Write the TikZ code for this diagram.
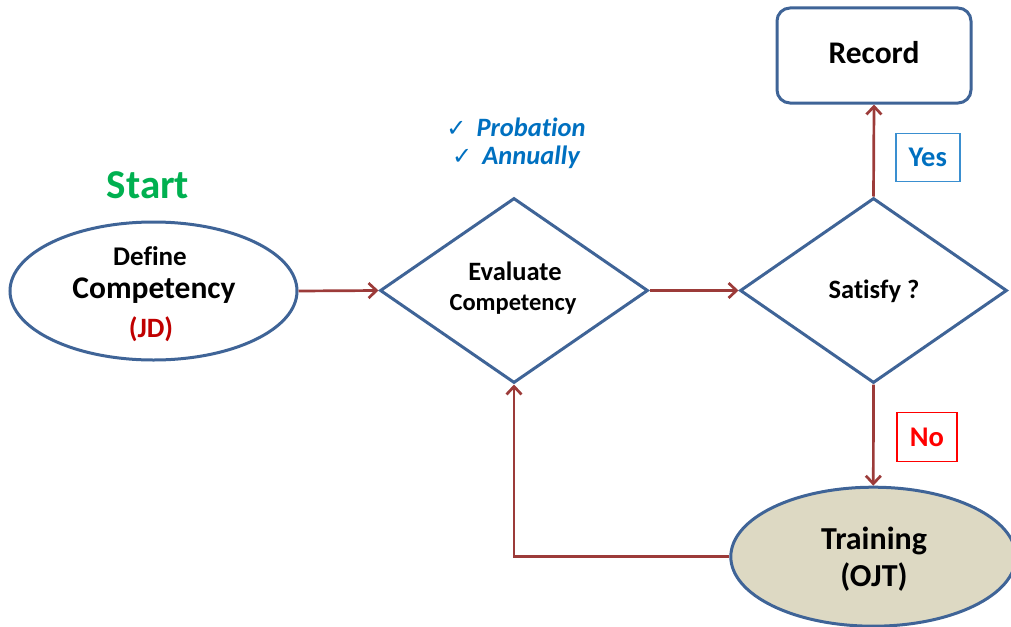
\documentclass[tikz,border=0pt]{standalone}
\usepackage{fontspec}
\setmainfont{Carlito}[Ligatures=NoCommon]
\newfontfamily\symfont{DejaVu Sans}
\usetikzlibrary{shapes.geometric,arrows.meta}
\definecolor{outl}{HTML}{3F6497}
\definecolor{arr}{HTML}{9C3B39}
\definecolor{lblue}{HTML}{0070C0}
\definecolor{ybox}{HTML}{3A8FD0}
\definecolor{nred}{HTML}{FF0000}
\definecolor{jdred}{HTML}{C00000}
\definecolor{sgreen}{HTML}{00B050}
\definecolor{tfill}{HTML}{DDD9C3}
\tikzset{
  shapeol/.style={draw=outl, line width=3pt, inner sep=0pt, fill=white},
  flowarrow/.style={draw=arr, line width=2.7pt, -{Straight Barb[length=8pt,width=15pt,line width=2.7pt]}},
  txt/.style={font=\bfseries, inner sep=0pt, text=black},
  tagbox/.style={line width=1.4pt, inner sep=0pt, fill=white, font=\fontsize{28.5}{32}\selectfont\bfseries}
}
\begin{document}
\begin{tikzpicture}[x=1pt,y=-1pt]
\useasboundingbox (0,0) rectangle (1011,626);
\clip (0,0) rectangle (1011,626);

% shapes
\node[shapeol, ellipse, minimum width=287pt, minimum height=138pt] (def) at (153.5,291) {};
\node[shapeol, diamond, minimum width=268pt, minimum height=185pt] (eval) at (514,290.5) {};
\node[shapeol, diamond, minimum width=267pt, minimum height=185pt] (sat) at (873.5,290.5) {};
\node[shapeol, rounded corners=13pt, minimum width=194pt, minimum height=95pt] (rec) at (874,55.5) {};
\node[shapeol, ellipse, fill=tfill, minimum width=285pt, minimum height=139pt] (train) at (873.3,556.7) {};

% texts
\node[txt, text=sgreen, font=\fontsize{41}{44}\selectfont\bfseries] (start) at (148,185) {Start};
\node[txt, font=\fontsize{27}{30}\selectfont\bfseries] (deft1) at (150,256) {Define};
\node[txt, font=\fontsize{31.5}{35}\selectfont\bfseries] (deft2) at (154,291) {Competency};
\node[txt, text=jdred, font=\fontsize{28}{31}\selectfont\bfseries] (deft3) at (151,329) {(JD)};
\node[txt, font=\fontsize{26.5}{30}\selectfont\bfseries] (evt1) at (515,271) {Evaluate};
\node[txt, font=\fontsize{24.5}{28}\selectfont\bfseries] (evt2) at (513,304) {Competency};
\node[txt, font=\fontsize{26.5}{30}\selectfont\bfseries] (satt) at (874,291) {Satisfy ?};
\node[txt, font=\fontsize{31.5}{35}\selectfont\bfseries] (rect) at (874,53) {Record};
\node[txt, font=\fontsize{32}{36}\selectfont\bfseries] (trt1) at (874,541) {Training};
\node[txt, font=\fontsize{32}{36}\selectfont\bfseries] (trt2) at (874,577) {(OJT)};
\node[txt, text=lblue, font=\fontsize{26.5}{30}\selectfont\bfseries\itshape] (prob) at (516,127) {{\symfont\fontsize{24}{26}\selectfont\upshape\mdseries ✓}\hspace{10pt}Probation};
\node[txt, text=lblue, font=\fontsize{26.5}{30}\selectfont\bfseries\itshape] (ann) at (516,157) {{\symfont\fontsize{24}{26}\selectfont\upshape\mdseries ✓}\hspace{10pt}Annually};

% tags
\node[tagbox, draw=ybox, text=lblue, minimum width=64pt, minimum height=48pt] (yes) at (927.8,157.5) {Yes};
\node[tagbox, draw=nred, text=nred, minimum width=60pt, minimum height=48.6pt] (no) at (927,437) {No};

% connectors
\draw[flowarrow] (def.east) -- (eval.west);
\draw[flowarrow] (eval.east) -- (sat.west);
\draw[flowarrow] (sat.north) -- (rec.south);
\draw[flowarrow] (sat.south) -- (train.north);
\draw[flowarrow] (train.west) -| (eval.south);
\end{tikzpicture}
\end{document}
